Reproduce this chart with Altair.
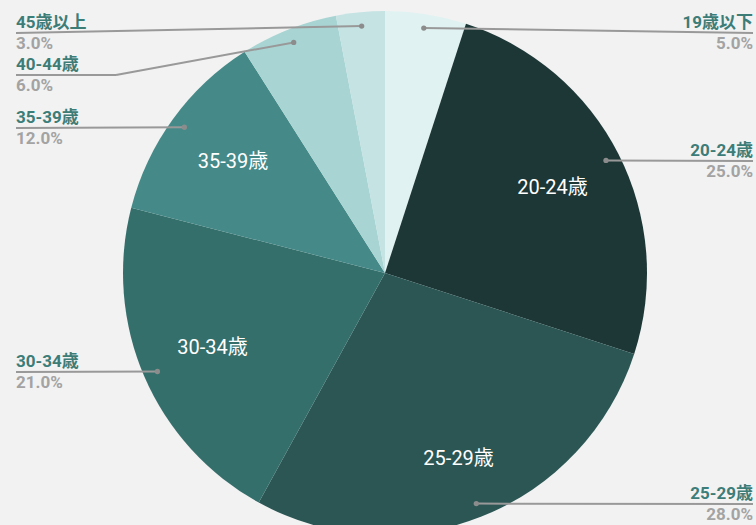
import altair as alt
import pandas as pd

# ---- data ----
categories = ["19歳以下", "20-24歳", "25-29歳", "30-34歳", "35-39歳", "40-44歳", "45歳以上"]
values = [5.0, 25.0, 28.0, 21.0, 12.0, 6.0, 3.0]
inner_labels = ["", "20-24歳", "25-29歳", "30-34歳", "35-39歳", "", ""]

# ---- layout / style (not data) ----
slice_colors = ["#e0f2f1", "#1d3737", "#2b5654", "#356f6c", "#458a88", "#a8d5d3", "#c5e3e3"]
inner_ring = ["", "near", "far", "near", "near", "", ""]   # which label radius each slice uses
label_line_y = [33, 161, 504, 372, 128, 75, 33]
elbow_x = [753, 753, 753, 16, 16, 116, 16]
label_side = ["right", "right", "right", "left", "left", "left", "left"]

W, H = 756, 525
CX, CY, R = 385, 273, 262
DOT_R = 248
FONT = "Roboto, Noto Sans CJK JP, sans-serif"

df = pd.DataFrame({
    "category": categories,
    "value": values,
    "idx": list(range(len(categories))),
    "label_y": label_line_y,
    "elbow_x": elbow_x,
    "side": label_side,
})
df["near"] = [t if r == "near" else "" for t, r in zip(inner_labels, inner_ring)]
df["far"] = [t if r == "far" else "" for t, r in zip(inner_labels, inner_ring)]
df["pct"] = [f"{v:.1f}%" for v in values]

xs = alt.Scale(domain=[0, W], range=[0, W])
ys = alt.Scale(domain=[0, H], reverse=True)

base = alt.Chart(df)

pie = base.mark_arc(radius=R).encode(
    theta=alt.Theta("value:Q", stack=True),
    color=alt.Color("category:N", sort=categories,
                    scale=alt.Scale(domain=categories, range=slice_colors), legend=None),
    order=alt.Order("idx:Q"),
    x=alt.value(CX), y=alt.value(CY),
)

def inner_text(field, radius):
    return base.mark_text(radius=radius, fontSize=20, font=FONT, color="#ffffff").encode(
        theta=alt.Theta("value:Q", stack=True),
        order=alt.Order("idx:Q"),
        text=f"{field}:N",
        x=alt.value(CX), y=alt.value(CY),
    )

geo = base.transform_window(
    cum="sum(value)", sort=[alt.SortField("idx")], frame=[None, 0]
).transform_joinaggregate(
    total="sum(value)"
).transform_calculate(
    mid="(datum.cum - datum.value/2) / datum.total * 2 * PI",
).transform_calculate(
    dot_x=f"{CX} + {DOT_R} * sin(datum.mid)",
    dot_y=f"{CY} - {DOT_R} * cos(datum.mid)",
    end_x="datum.side == 'right' ? 753 : 16",
)

seg1 = geo.mark_rule(color="#999999", strokeWidth=2).encode(
    x=alt.X("dot_x:Q", scale=xs, axis=None), y=alt.Y("dot_y:Q", scale=ys, axis=None),
    x2="elbow_x:Q", y2="label_y:Q",
)
seg2 = geo.mark_rule(color="#999999", strokeWidth=2).encode(
    x=alt.X("elbow_x:Q", scale=xs, axis=None), y=alt.Y("label_y:Q", scale=ys, axis=None),
    x2="end_x:Q",
)
dots = geo.mark_circle(color="#8c8c8c", size=28, opacity=1).encode(
    x=alt.X("dot_x:Q", scale=xs, axis=None), y=alt.Y("dot_y:Q", scale=ys, axis=None),
)

def side_labels(side, align):
    g = geo.transform_filter(f"datum.side == '{side}'")
    name = g.mark_text(align=align, baseline="alphabetic", dy=-5, fontSize=17,
                       fontWeight="bold", font=FONT, color="#3d7d78").encode(
        x=alt.X("end_x:Q", scale=xs, axis=None), y=alt.Y("label_y:Q", scale=ys, axis=None),
        text="category:N",
    )
    pct = g.mark_text(align=align, baseline="top", dy=3, fontSize=17,
                      fontWeight="bold", font=FONT, color="#a3a3a3").encode(
        x=alt.X("end_x:Q", scale=xs, axis=None), y=alt.Y("label_y:Q", scale=ys, axis=None),
        text="pct:N",
    )
    return name + pct

chart = alt.layer(
    pie, inner_text("near", 188), inner_text("far", 200),
    seg1, seg2, dots, side_labels("left", "left"), side_labels("right", "right")
).properties(
    width=W, height=H, background="#f2f2f2", padding=0,
    autosize=alt.AutoSizeParams(type="none"),
).configure_view(stroke=None, fill="#f2f2f2")

chart.save("out.html", embed_options={"renderer": "svg", "actions": False})
